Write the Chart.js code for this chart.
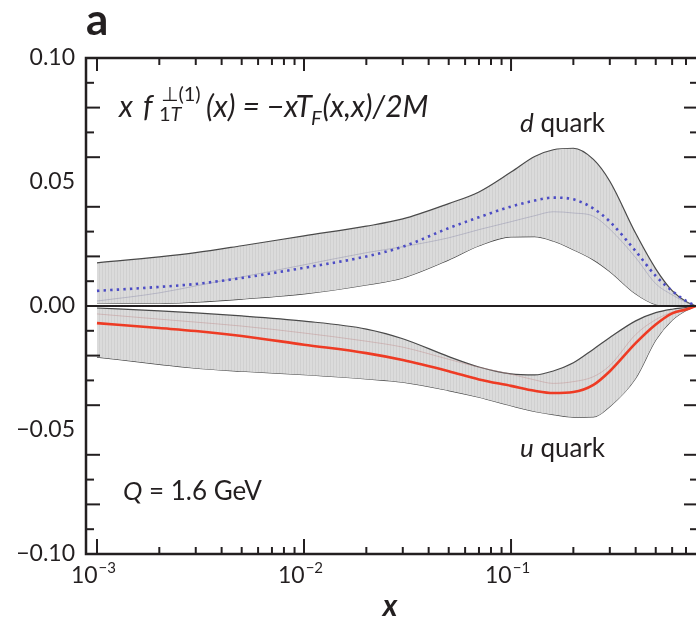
<!DOCTYPE html>
<html>
<head>
<meta charset="utf-8">
<script src="https://cdn.jsdelivr.net/npm/chart.js@4.4.1/dist/chart.umd.min.js"></script>
<style>
  html, body { margin: 0; padding: 0; overflow: hidden; background: #fff; width: 696px; height: 620px; }
  canvas { display: block; }
</style>
</head>
<body>
<canvas id="chart" width="700" height="620"></canvas>
<script>
// x values (log axis) and the bands
const XS = [0.001, 0.002, 0.003, 0.005, 0.01, 0.02, 0.03, 0.05, 0.07, 0.1, 0.13, 0.16, 0.2, 0.25, 0.3, 0.4, 0.5, 0.6, 0.7, 0.78];

const D_UPPER = [0.0174, 0.0198, 0.0215, 0.0243, 0.0283, 0.0322, 0.0351, 0.0413, 0.0460, 0.0540, 0.0603, 0.0630, 0.0636, 0.0591, 0.0503, 0.0293, 0.0150, 0.0062, 0.0018, 0];
const D_LOWER = [0.0012, 0.0010, 0.0016, 0.0028, 0.0049, 0.0085, 0.0113, 0.0186, 0.0243, 0.0279, 0.0280, 0.0262, 0.0227, 0.0186, 0.0139, 0.0049, 0.0006, 0, 0, 0];
const D_CENTRAL = [0.0061, 0.0077, 0.0089, 0.0113, 0.0154, 0.0200, 0.0239, 0.0314, 0.0358, 0.0401, 0.0425, 0.0437, 0.0430, 0.0393, 0.0340, 0.0221, 0.0121, 0.0061, 0.0021, 0];
const D_OTHER = [0.0020, 0.0053, 0.0081, 0.0117, 0.0166, 0.0215, 0.0239, 0.0275, 0.0308, 0.0340, 0.0364, 0.0380, 0.0375, 0.0362, 0.0310, 0.0195, 0.0090, 0.0045, 0.0015, 0];

const U_UPPER = [-0.0008, -0.0020, -0.0028, -0.0040, -0.0061, -0.0093, -0.0132, -0.0204, -0.0246, -0.0274, -0.0278, -0.0262, -0.0229, -0.0174, -0.0127, -0.0060, -0.0027, -0.0013, -0.0006, 0];
const U_LOWER = [-0.0206, -0.0235, -0.0251, -0.0263, -0.0277, -0.0294, -0.0307, -0.0341, -0.0368, -0.0402, -0.0425, -0.0438, -0.0448, -0.0447, -0.0405, -0.0291, -0.0137, -0.0057, -0.0018, 0];
const U_CENTRAL = [-0.0069, -0.0089, -0.0101, -0.0121, -0.0156, -0.0190, -0.0218, -0.0263, -0.0296, -0.0322, -0.0342, -0.0351, -0.0347, -0.0318, -0.0263, -0.0150, -0.0075, -0.0030, -0.0014, 0];
const U_OTHER = [-0.0032, -0.0053, -0.0065, -0.0081, -0.0109, -0.0142, -0.0166, -0.0215, -0.0247, -0.0275, -0.0298, -0.0312, -0.0305, -0.0285, -0.0240, -0.0115, -0.0055, -0.0025, -0.0010, 0];

// axis ticks
const X_DECADES = [-3, -2, -1];
const X_MINOR = [2, 3, 4, 5, 6, 7, 8, 9];
const Y_LABELS = [-0.10, -0.05, 0, 0.05, 0.10];
const Y_MINOR = [-0.09, -0.08, -0.07, -0.06, -0.04, -0.03, -0.02, -0.01, 0.01, 0.02, 0.03, 0.04, 0.06, 0.07, 0.08, 0.09];

const INK = '#231f20';
const FONT = 'Lato, "DejaVu Sans", sans-serif';

const pts = arr => arr.map((v, i) => ({ x: XS[i], y: v }));

// light grey fill with faint vertical hatching, like the original bands
function hatch() {
  const c = document.createElement('canvas');
  c.width = 3; c.height = 3;
  const g = c.getContext('2d');
  g.fillStyle = '#dbdbdb';
  g.fillRect(0, 0, 3, 3);
  g.fillStyle = '#d0d0d0';
  g.fillRect(0, 0, 1, 3);
  return g.createPattern(c, 'repeat');
}
const HATCH = hatch();

function band(data, fill) {
  return {
    data: pts(data),
    borderColor: '#4a4a4a',
    borderWidth: 1.2,
    backgroundColor: HATCH,
    fill: fill,
    pointRadius: 0,
    cubicInterpolationMode: 'monotone',
    order: 3
  };
}

function faint(data, color) {
  return {
    data: pts(data),
    borderColor: color,
    borderWidth: 1,
    pointRadius: 0,
    fill: false,
    cubicInterpolationMode: 'monotone',
    order: 1
  };
}

function line(ctx, x1, y1, x2, y2) {
  ctx.beginPath();
  ctx.moveTo(x1, y1);
  ctx.lineTo(x2, y2);
  ctx.stroke();
}

const framePlugin = {
  id: 'frame',
  afterDatasetsDraw(chart) {
    const { ctx, chartArea: a, scales: { x, y } } = chart;
    ctx.save();
    ctx.strokeStyle = INK;

    // zero line
    ctx.lineWidth = 2;
    const y0 = y.getPixelForValue(0);
    line(ctx, a.left, y0, a.right, y0);

    // x ticks, top and bottom, pointing inwards
    X_DECADES.forEach(d => {
      const base = Math.pow(10, d);
      const px = x.getPixelForValue(base);
      line(ctx, px, a.bottom, px, a.bottom - 15);
      line(ctx, px, a.top, px, a.top + 13);
      X_MINOR.forEach(m => {
        const q = x.getPixelForValue(m * base);
        line(ctx, q, a.bottom, q, a.bottom - 7);
        line(ctx, q, a.top, q, a.top + 7);
      });
    });

    // y ticks, left and right
    Y_MINOR.forEach(v => {
      const py = y.getPixelForValue(v);
      const even = Math.round(Math.abs(v) * 100) % 2 === 0;
      const len = even ? 14 : 8;
      line(ctx, a.left, py, a.left + len, py);
      line(ctx, a.right, py, a.right - len, py);
    });

    // box
    ctx.lineWidth = 2.5;
    ctx.strokeRect(a.left, a.top, a.right - a.left, a.bottom - a.top);

    // x tick labels 10^n
    ctx.fillStyle = INK;
    ctx.textBaseline = 'alphabetic';
    X_DECADES.forEach(d => {
      const px = x.getPixelForValue(Math.pow(10, d));
      ctx.font = '23px ' + FONT;
      const w1 = ctx.measureText('10').width;
      const sup = '\u2212' + Math.abs(d);
      ctx.font = '15px ' + FONT;
      const w2 = ctx.measureText(sup).width;
      const left = px - (w1 + w2) / 2 - 4;
      ctx.font = '23px ' + FONT;
      ctx.textAlign = 'left';
      ctx.fillText('10', left, a.bottom + 29);
      ctx.font = '15px ' + FONT;
      ctx.fillText(sup, left + w1 + 1, a.bottom + 19);
    });

    ctx.restore();
  },
  afterDraw(chart) {
    const { ctx } = chart;
    ctx.save();
    ctx.fillStyle = INK;
    ctx.textAlign = 'left';
    ctx.textBaseline = 'alphabetic';

    // panel letter
    ctx.font = 'bold 44px ' + FONT;
    ctx.fillText('a', 86, 35);

    // axis title
    ctx.font = 'italic bold 30px ' + FONT;
    ctx.textAlign = 'center';
    ctx.fillText('x', 390, 616);
    ctx.textAlign = 'left';

    // formula: x f_{1T}^{⊥(1)}(x) = −x T_F(x,x)/2M
    const big = 'italic 30px ' + FONT;
    const small = '20px ' + FONT;
    const smallIt = 'italic 20px ' + FONT;
    ctx.font = big;
    ctx.fillText('x', 119, 117);
    ctx.fillText('f', 143, 117);
    ctx.font = small;
    ctx.fillText('\u22a5(1)', 161, 101);
    ctx.fillText('1', 159, 121);
    const w1 = ctx.measureText('1').width;
    ctx.font = smallIt;
    ctx.fillText('T', 159 + w1, 121);
    ctx.font = big;
    let cx = 206;
    ctx.fillText('(x) = \u2212xT', cx, 117);
    cx += ctx.measureText('(x) = \u2212xT').width;
    ctx.font = smallIt;
    ctx.fillText('F', cx - 1, 125);
    cx += ctx.measureText('F').width;
    ctx.font = big;
    ctx.fillText('(x,x)/2M', cx, 117);

    // quark labels
    const label = (it, rest, x0, y0) => {
      ctx.font = 'italic 26px ' + FONT;
      ctx.fillText(it, x0, y0);
      const w = ctx.measureText(it).width;
      ctx.font = '26px ' + FONT;
      ctx.fillText(rest, x0 + w, y0);
    };
    label('d', ' quark', 520, 132);
    label('u', ' quark', 520, 457);
    label('Q', ' = 1.6 GeV', 123, 500);

    ctx.restore();
  }
};

new Chart(document.getElementById('chart'), {
  type: 'line',
  data: {
    datasets: [
      band(D_UPPER, '+1'),
      band(D_LOWER, false),
      band(U_UPPER, '+1'),
      band(U_LOWER, false),
      faint(D_OTHER, 'rgba(140,140,170,0.45)'),
      faint(U_OTHER, 'rgba(190,140,140,0.45)'),
      {
        data: pts(D_CENTRAL),
        borderColor: '#4c4cc4',
        borderWidth: 2.6,
        borderDash: [2.4, 4.2],
        pointRadius: 0,
        fill: false,
        cubicInterpolationMode: 'monotone',
        order: 0
      },
      {
        data: pts(U_CENTRAL),
        borderColor: '#ee3b24',
        borderWidth: 2.6,
        pointRadius: 0,
        fill: false,
        cubicInterpolationMode: 'monotone',
        order: 0
      }
    ]
  },
  options: {
    responsive: false,
    animation: false,
    devicePixelRatio: 1,
    layout: { padding: { left: 0, top: 58, right: 2, bottom: 0 } },
    plugins: { legend: { display: false }, tooltip: { enabled: false } },
    scales: {
      x: {
        type: 'logarithmic',
        min: 0.000885,
        max: 0.80,
        grid: { display: false },
        border: { display: false },
        ticks: { display: false },
        afterFit: s => { s.height = 66; }
      },
      y: {
        type: 'linear',
        min: -0.10,
        max: 0.10,
        grid: { display: false, drawTicks: false },
        border: { display: false },
        afterBuildTicks: s => { s.ticks = Y_LABELS.map(v => ({ value: v })); },
        ticks: {
          padding: 11,
          color: INK,
          font: { family: FONT, size: 23 },
          callback: v => (Math.abs(v) < 1e-9 ? 0 : v).toFixed(2).replace('-', '\u2212')
        },
        afterFit: s => { s.width = 86; }
      }
    }
  },
  plugins: [framePlugin]
});
</script>
</body>
</html>
